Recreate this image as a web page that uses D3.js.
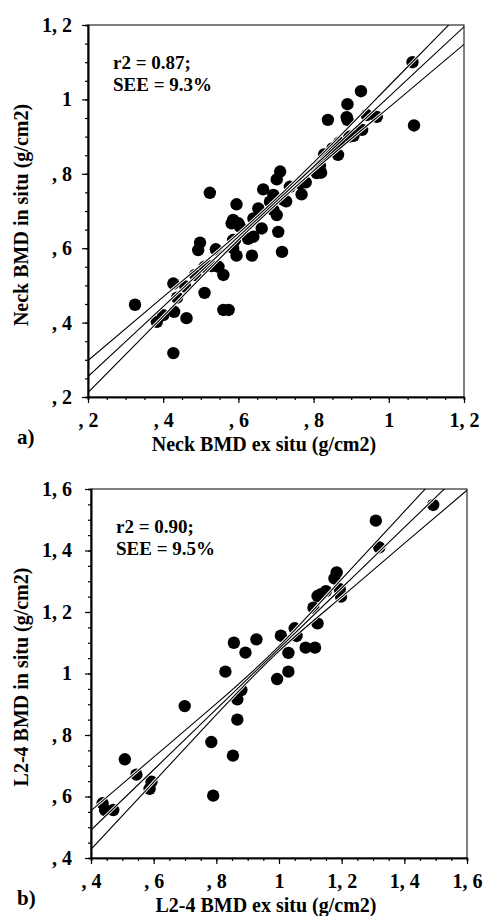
<!DOCTYPE html>
<html>
<head>
<meta charset="utf-8">
<script src="https://cdn.jsdelivr.net/npm/d3@7"></script>
<style>
  body { margin: 0; background: #fff; }
  text { font-family: "Liberation Serif", "Times New Roman", serif; font-weight: bold; fill: #000; }
</style>
</head>
<body>
<svg id="chart" width="486" height="916"></svg>
<script>
// panel a : neck BMD
let neckTicks = [0.2, 0.4, 0.6, 0.8, 1.0, 1.2]
let neckTickLabels = [', 2', ', 4', ', 6', ', 8', '1', '1, 2']
let neckPoints = [
  [1.063, 1.100], [1.067, 0.930], [0.926, 1.022], [0.890, 0.987], [0.888, 0.952],
  [0.890, 0.945], [0.838, 0.945], [0.941, 0.958], [0.968, 0.953], [0.929, 0.918],
  [0.906, 0.902], [0.895, 0.900], [0.868, 0.884], [0.850, 0.868], [0.865, 0.851],
  [0.828, 0.852], [0.817, 0.822], [0.820, 0.803], [0.808, 0.802],
  [0.737, 0.765], [0.764, 0.774], [0.779, 0.777], [0.768, 0.745],
  [0.711, 0.806], [0.702, 0.785], [0.666, 0.758], [0.693, 0.743], [0.684, 0.725],
  [0.720, 0.730], [0.727, 0.726], [0.693, 0.703], [0.702, 0.689], [0.653, 0.707],
  [0.595, 0.718], [0.640, 0.680], [0.586, 0.676], [0.604, 0.658], [0.662, 0.653],
  [0.640, 0.631], [0.706, 0.644], [0.716, 0.590], [0.636, 0.580], [0.591, 0.622],
  [0.626, 0.625], [0.582, 0.667], [0.600, 0.667], [0.586, 0.622], [0.595, 0.580],
  [0.586, 0.600], [0.524, 0.749],
  [0.540, 0.597], [0.498, 0.615], [0.493, 0.595], [0.510, 0.550], [0.529, 0.552],
  [0.547, 0.550], [0.560, 0.528], [0.485, 0.528], [0.459, 0.497], [0.427, 0.505],
  [0.437, 0.467], [0.510, 0.480], [0.429, 0.429], [0.400, 0.420], [0.383, 0.402],
  [0.462, 0.412], [0.325, 0.448], [0.427, 0.318], [0.560, 0.434], [0.574, 0.434]
]
let neckBandX = [0.2, 0.4, 0.6, 0.8, 1.0, 1.2]
let neckFit = [0.255, 0.443, 0.631, 0.819, 1.007, 1.195]
let neckUpper = [0.298, 0.469, 0.640, 0.830, 1.036, 1.242]
let neckLower = [0.212, 0.417, 0.622, 0.808, 0.978, 1.148]

// panel b : L2-4 BMD
let spineTicks = [0.4, 0.6, 0.8, 1.0, 1.2, 1.4, 1.6]
let spineTickLabels = [', 4', ', 6', ', 8', '1', '1, 2', '1, 4', '1, 6']
let spinePoints = [
  [1.492, 1.548], [1.309, 1.497], [1.320, 1.410], [1.184, 1.329], [1.177, 1.309],
  [1.194, 1.274], [1.198, 1.250], [1.150, 1.268], [1.123, 1.252], [1.134, 1.258],
  [1.110, 1.214], [1.123, 1.163], [1.050, 1.147], [1.056, 1.122], [1.006, 1.123],
  [1.085, 1.084], [1.115, 1.084], [1.030, 1.067], [1.030, 1.006], [0.994, 0.982],
  [0.928, 1.111], [0.856, 1.100], [0.893, 1.068], [0.829, 1.006], [0.880, 0.946],
  [0.867, 0.916], [0.867, 0.850], [0.699, 0.894], [0.784, 0.777], [0.853, 0.733],
  [0.790, 0.603], [0.508, 0.721], [0.545, 0.671], [0.593, 0.648], [0.587, 0.625],
  [0.437, 0.578], [0.445, 0.556], [0.471, 0.556]
]
let spineBandX = [0.4, 0.6, 0.8, 1.0, 1.2, 1.4, 1.6]
let spineFit = [0.491, 0.687, 0.884, 1.081, 1.278, 1.475, 1.671]
let spineUpper = [0.554, 0.728, 0.902, 1.089, 1.307, 1.527, 1.746]
let spineLower = [0.428, 0.647, 0.866, 1.073, 1.249, 1.423, 1.596]

let svg = d3.select('#chart')

let drawPanel = (p) => {
  let x = d3.scaleLinear().domain(p.domain).range([p.left, p.right])
  let y = d3.scaleLinear().domain(p.domain).range([p.bottom, p.top])
  let g = svg.append('g')

  g.append('clipPath').attr('id', p.id + '-clip')
    .append('rect')
    .attr('x', p.left).attr('y', p.top)
    .attr('width', p.right - p.left).attr('height', p.bottom - p.top)

  // points
  g.selectAll('circle.dot')
    .data(p.points)
    .enter()
    .append('circle')
    .attr('class', 'dot')
    .attr('cx', (d) => x(d[0]))
    .attr('cy', (d) => y(d[1]))
    .attr('r', 6.2)
    .attr('fill', '#000')

  // regression line + confidence bands, black with a white casing
  let lines = [p.upper, p.fit, p.lower]
  let lineGen = d3.line()
    .x((d, i) => x(p.bandX[i]))
    .y((d) => y(d))
    .curve(d3.curveNatural)
  let lg = g.append('g').attr('clip-path', 'url(#' + p.id + '-clip)')
  lines.forEach((vals) => {
    lg.append('path').attr('d', lineGen(vals))
      .attr('fill', 'none').attr('stroke', '#fff').attr('stroke-width', 3)
  })
  lines.forEach((vals) => {
    lg.append('path').attr('d', lineGen(vals))
      .attr('fill', 'none').attr('stroke', '#000').attr('stroke-width', 1.1)
  })

  // frame
  g.append('rect')
    .attr('x', p.left).attr('y', p.top)
    .attr('width', p.right - p.left).attr('height', p.bottom - p.top)
    .attr('fill', 'none').attr('stroke', '#000').attr('stroke-width', 1)

  let minor = d3.range(p.domain[0], p.domain[1] + 0.001, 0.05)
  let label = (d) => {
    let i = p.ticks.findIndex((t) => Math.abs(t - d) < 1e-6)
    return i < 0 ? '' : p.labels[i]
  }

  // minor ticks
  g.append('g').attr('transform', 'translate(0,' + p.bottom + ')')
    .call(d3.axisBottom(x).tickValues(minor).tickSize(3).tickFormat(''))
  g.append('g').attr('transform', 'translate(' + p.left + ',0)')
    .call(d3.axisLeft(y).tickValues(minor).tickSize(3).tickFormat(''))

  // major ticks
  g.append('g').attr('transform', 'translate(0,' + p.bottom + ')')
    .call(d3.axisBottom(x).tickValues(p.ticks).tickSize(6).tickSizeOuter(0)
      .tickPadding(10).tickFormat(label))
  g.append('g').attr('transform', 'translate(' + p.left + ',0)')
    .call(d3.axisLeft(y).tickValues(p.ticks).tickSize(6).tickSizeOuter(0)
      .tickPadding(p.yPad).tickFormat(label))

  g.selectAll('.domain').attr('stroke', '#000').attr('stroke-width', 1.6)
  g.selectAll('.tick line').attr('stroke', '#000').attr('stroke-width', 1.2)
  g.selectAll('.tick text')
    .style('font-family', '"Liberation Serif", serif')
    .style('font-weight', 'bold')
    .style('font-size', '20px')
    .style('white-space', 'pre')
    .attr('fill', '#000')

  // titles
  g.append('text')
    .attr('x', p.xTitleX).attr('y', p.xTitleY)
    .attr('text-anchor', 'middle')
    .style('font-size', '20px')
    .text(p.xTitle)
  g.append('text')
    .attr('transform', 'translate(' + 28 + ',' + p.yTitleY + ') rotate(-90)')
    .attr('text-anchor', 'middle')
    .style('font-size', '20px')
    .text(p.yTitle)
  g.append('text')
    .attr('x', 17).attr('y', p.letterY)
    .style('font-size', '21px')
    .text(p.letter)

  // statistics
  g.append('text')
    .attr('x', p.left + 25).attr('y', p.top + 44)
    .style('font-size', '19px')
    .text(p.stat1)
  g.append('text')
    .attr('x', p.left + 25).attr('y', p.top + 66)
    .style('font-size', '19px')
    .text(p.stat2)
}

drawPanel({
  id: 'a', domain: [0.2, 1.2], left: 88, right: 464, top: 25, bottom: 397,
  ticks: neckTicks, labels: neckTickLabels, points: neckPoints,
  bandX: neckBandX, fit: neckFit, upper: neckUpper, lower: neckLower,
  yPad: 10,
  xTitle: 'Neck BMD ex situ (g/cm2)', xTitleX: 264, xTitleY: 451,
  yTitle: 'Neck BMD in situ (g/cm2)', yTitleY: 215,
  letter: 'a)', letterY: 444,
  stat1: 'r2 = 0.87;', stat2: 'SEE = 9.3%'
})

drawPanel({
  id: 'b', domain: [0.4, 1.6], left: 91, right: 467, top: 489, bottom: 858,
  ticks: spineTicks, labels: spineTickLabels, points: spinePoints,
  bandX: spineBandX, fit: spineFit, upper: spineUpper, lower: spineLower,
  yPad: 13,
  xTitle: 'L2-4 BMD ex situ (g/cm2)', xTitleX: 266, xTitleY: 912,
  yTitle: 'L2-4 BMD in situ (g/cm2)', yTitleY: 677,
  letter: 'b)', letterY: 905,
  stat1: 'r2 = 0.90;', stat2: 'SEE = 9.5%'
})
</script>
</body>
</html>
